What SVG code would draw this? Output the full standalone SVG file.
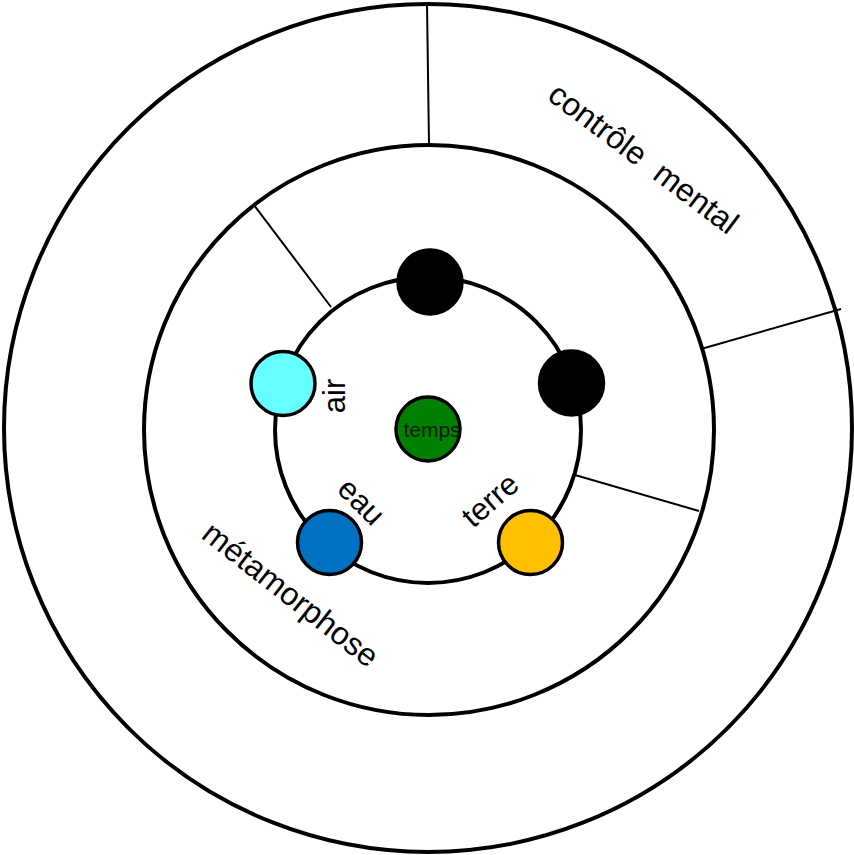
<svg xmlns="http://www.w3.org/2000/svg" width="854" height="855" viewBox="0 0 854 855">
<style>
.ring{fill:none;stroke:#000;stroke-width:4}
.div{stroke:#000;stroke-width:2;fill:none}
.dot{stroke:#000;stroke-width:3.5}
.lbl{font-family:"Liberation Sans",Arial,sans-serif;font-size:31px;fill:#000}
.big{font-size:32px}
.small{font-family:"Liberation Sans",Arial,sans-serif;font-size:21px;fill:#0a1a0a}
</style>
<rect width="854" height="855" fill="#fff"/>
<g id="outer-ring"><circle class="ring" cx="428" cy="428" r="424"/></g>
<g id="middle-ring"><circle class="ring" cx="429" cy="430" r="285"/></g>
<g id="inner-ring"><circle class="ring" cx="428" cy="430" r="153"/></g>
<g id="connectors">
<line class="div" x1="427" y1="3" x2="429" y2="145"/>
<line class="div" x1="701" y1="349" x2="841" y2="309"/>
<line class="div" x1="254" y1="205" x2="331" y2="307"/>
<line class="div" x1="575" y1="475" x2="699" y2="511"/>
</g>
<g id="label-controle"><text class="lbl big" text-anchor="middle" xml:space="preserve" transform="translate(637,167) rotate(37)">contrôle  mental</text></g>
<g id="label-metamorphose"><text class="lbl big" text-anchor="middle" transform="translate(284,603) rotate(38)">métamorphose</text></g>
<g id="node-top"><circle class="dot" cx="430" cy="282" r="32" fill="#000"/></g>
<g id="node-right"><circle class="dot" cx="571.5" cy="383" r="32" fill="#000"/></g>
<g id="node-air"><circle class="dot" cx="283" cy="383.5" r="32" fill="#66ffff"/>
<text class="lbl" text-anchor="middle" transform="translate(345,396) rotate(-90)">air</text></g>
<g id="node-eau"><circle class="dot" cx="329.5" cy="542.5" r="32" fill="#0070c0"/>
<text class="lbl" text-anchor="middle" transform="translate(354,509) rotate(45)">eau</text></g>
<g id="node-terre"><circle class="dot" cx="530.5" cy="542.5" r="32" fill="#ffc000"/>
<text class="lbl" text-anchor="middle" transform="translate(497,508) rotate(-41)">terre</text></g>
<g id="node-temps"><circle class="dot" cx="428" cy="429" r="32" fill="#008000"/>
<text class="small" text-anchor="middle" x="432" y="437">temps</text></g>
</svg>
